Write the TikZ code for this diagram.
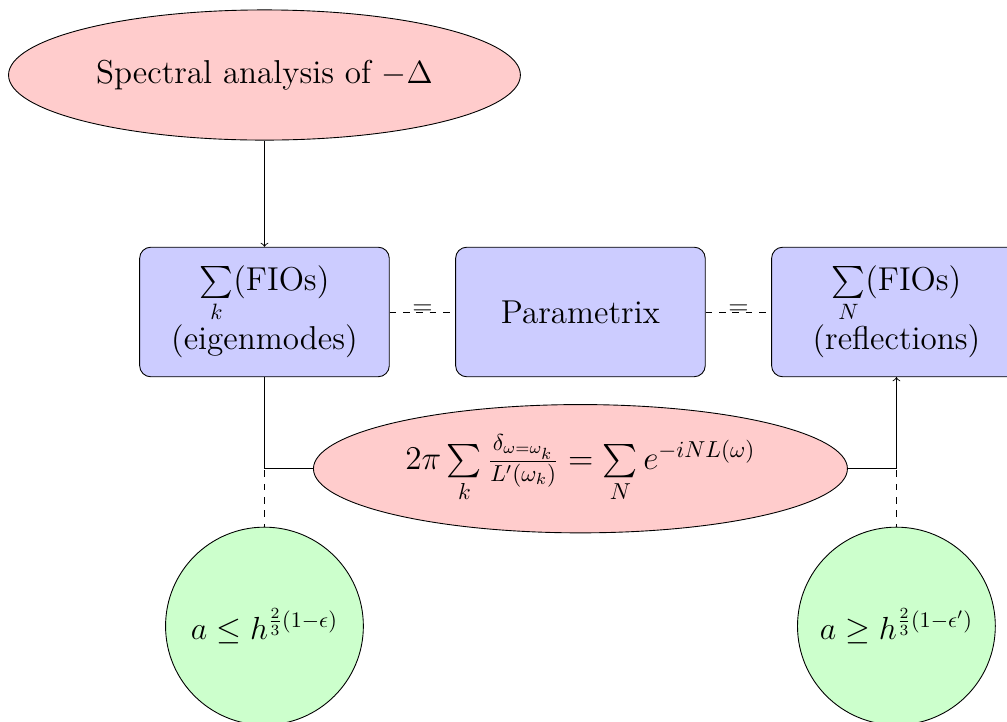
\documentclass[tikz,border=0pt]{standalone}
\usepackage{amsmath}
\usepackage{graphicx}
\usetikzlibrary{shapes.geometric}
\newcommand{\bigtxt}{\fontsize{14.9}{17.9}\selectfont}
\tikzset{
  blk/.style={draw, rounded corners=5pt, fill=blue!20, minimum width=3.95cm, minimum height=2.05cm, align=center, font=\bigtxt},
  pinkell/.style={draw, ellipse, fill=red!20, inner sep=0pt, font=\bigtxt},
  greencirc/.style={draw, circle, fill=green!20, minimum size=3.13cm, inner sep=0pt, font=\bigtxt},
  eqlbl/.style={midway, font=\large, inner sep=0pt, yshift=1pt}
}
\begin{document}
\begin{tikzpicture}
\useasboundingbox (-4.185,-6.487) rectangle (11.75,4.937);
\node[pinkell, minimum width=8.1cm, minimum height=2.06cm] (top) at (0,3.75) {Spectral analysis of $-\Delta$};
\node[blk] (b1) at (0,0) {$\sum\limits_k$(FIOs)\\(eigenmodes)};
\node[blk] (b2) at (5,0) {Parametrix};
\node[blk] (b3) at (10,0) {$\sum\limits_N$(FIOs)\\(reflections)};
\node[pinkell, minimum width=8.45cm, minimum height=2.03cm] (mid) at (5,-2.48)
  {\scalebox{1.04}{$2\pi\sum\limits_k \frac{\delta_{\omega=\omega_k}}{L'(\omega_k)} = \sum\limits_N e^{-iNL(\omega)}$}};
\node[greencirc] (c1) at (0,-4.97) {$a \le h^{\frac{2}{3}(1-\epsilon)}$};
\node[greencirc] (c2) at (10,-4.97) {$a \ge h^{\frac{2}{3}(1-\epsilon')}$};
\draw[->] (top) -- (b1);
\draw[dashed] (b1) -- node[eqlbl] {$=$} (b2);
\draw[dashed] (b2) -- node[eqlbl] {$=$} (b3);
\draw (b1.south) |- (mid.west);
\draw[->] (mid.east) -| (b3.south);
\draw[dashed] (b1.south) -- (c1.north);
\draw[dashed] (b3.south) -- (c2.north);
\end{tikzpicture}
\end{document}
